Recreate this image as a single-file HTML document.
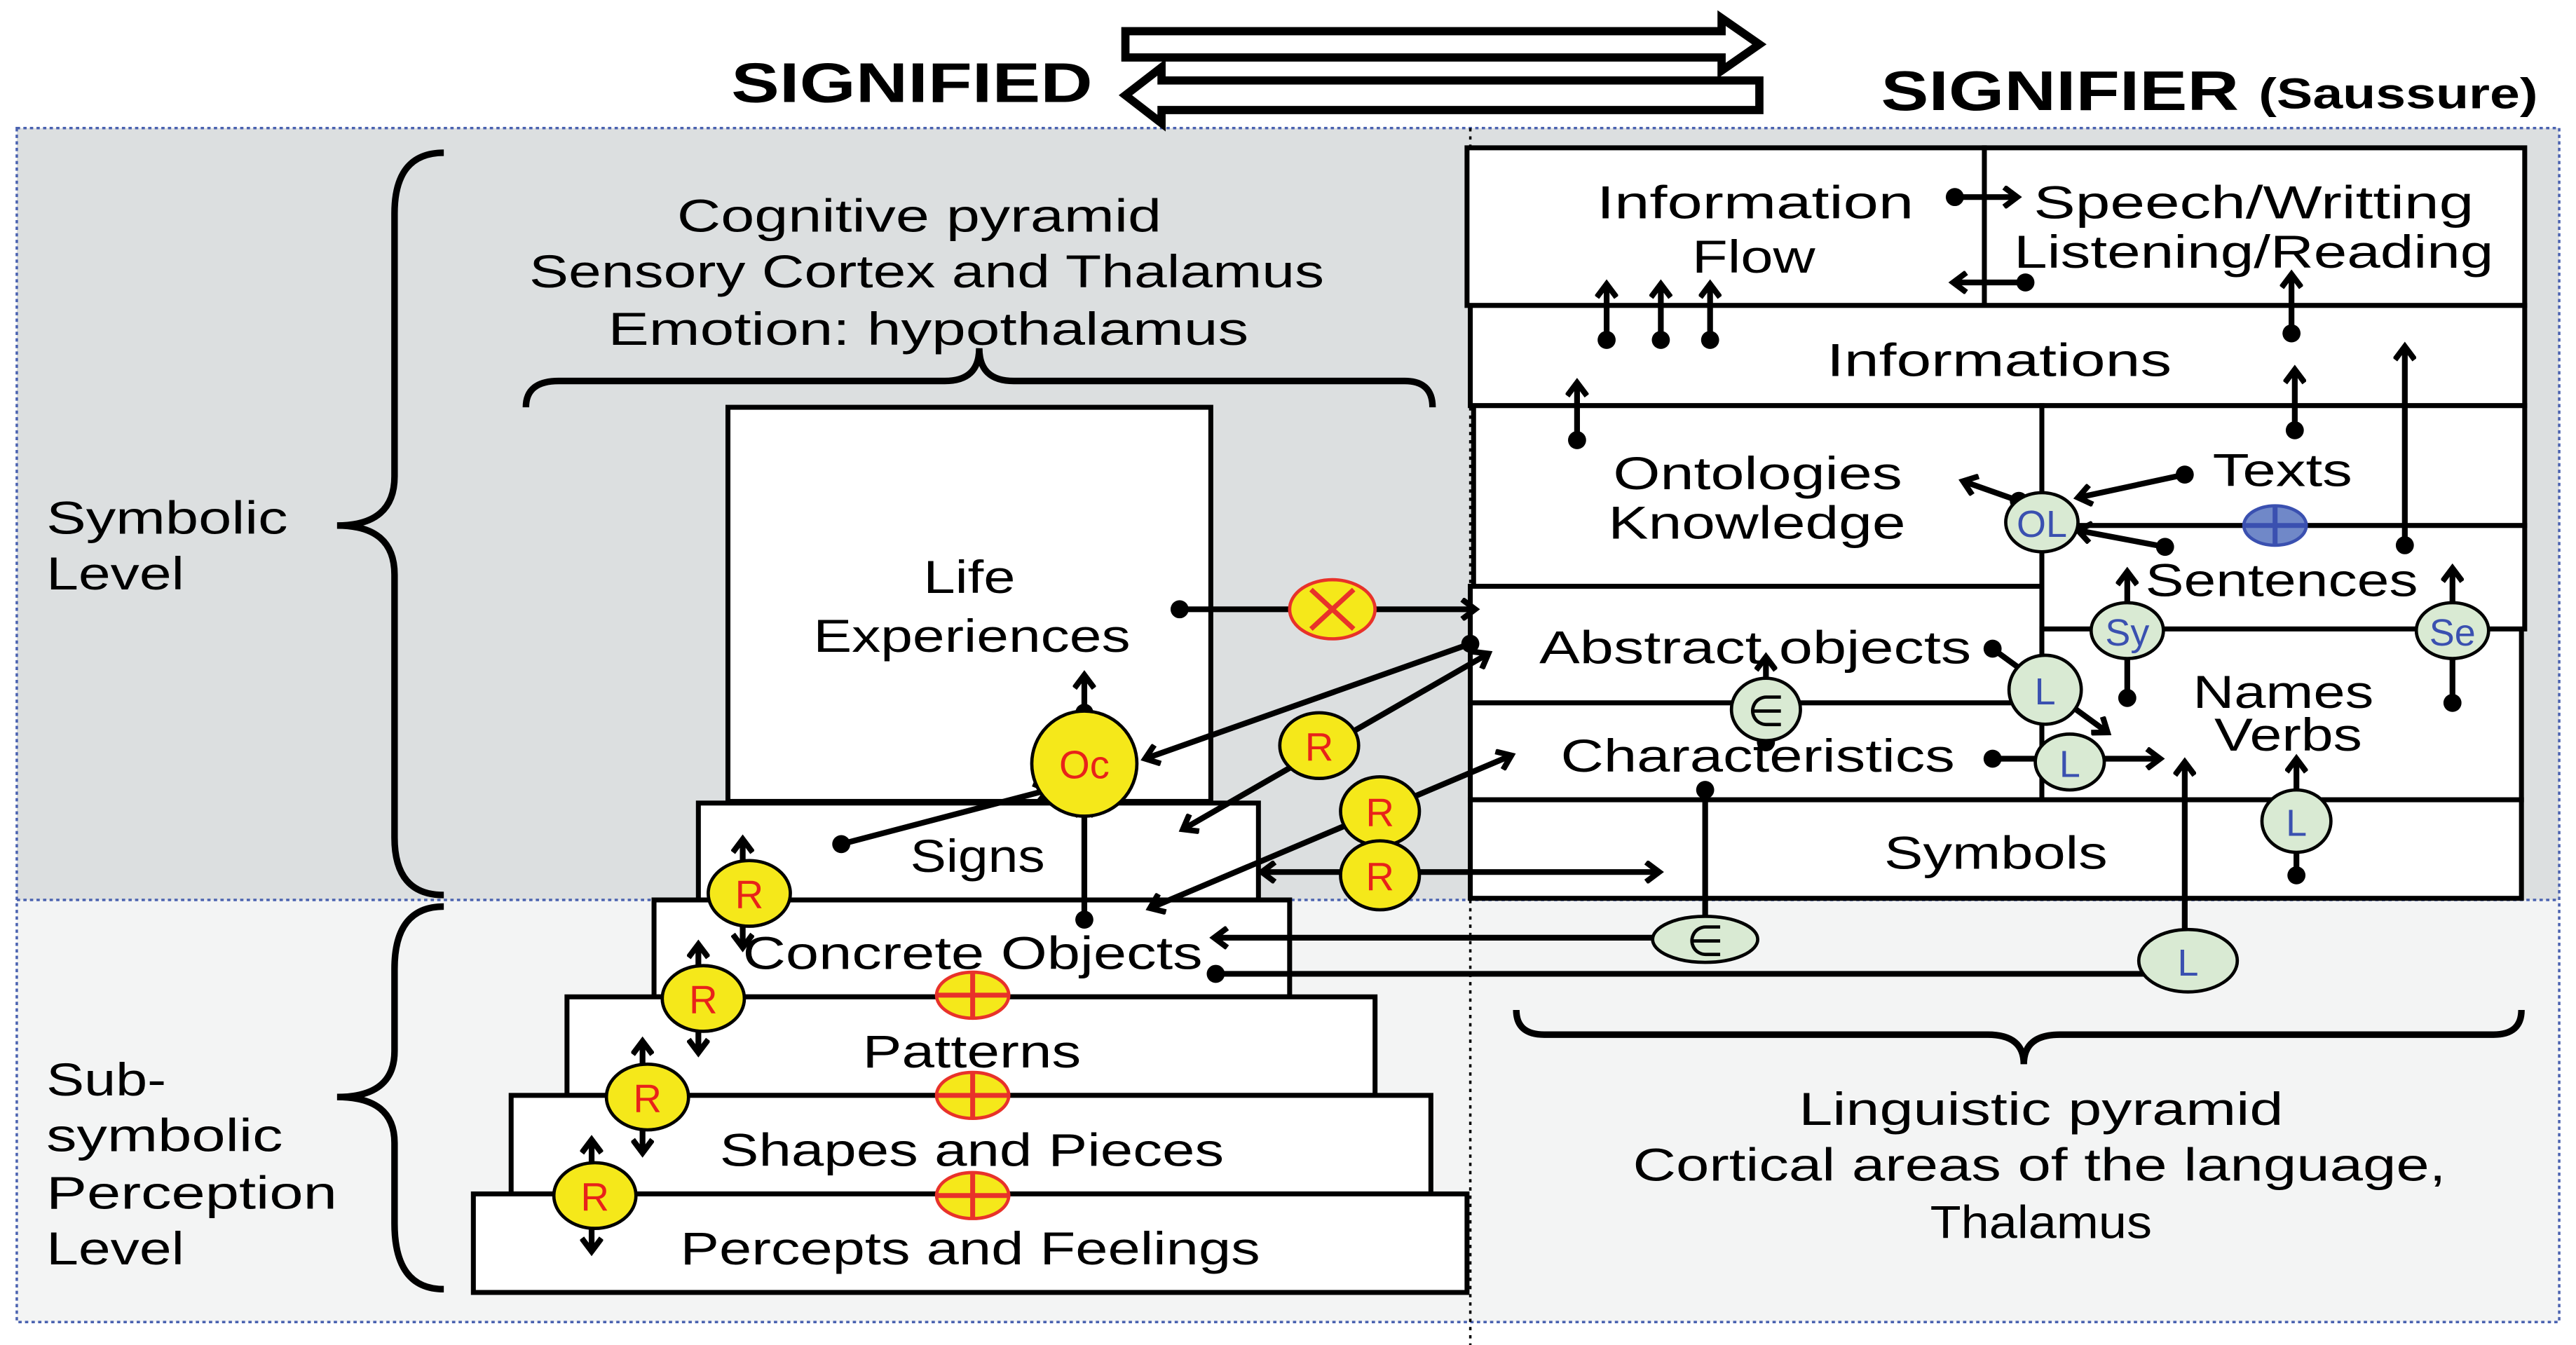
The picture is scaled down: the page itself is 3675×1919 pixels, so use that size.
<!DOCTYPE html>
<html><head><meta charset="utf-8"><style>html,body{margin:0;padding:0;background:#fff}svg{display:block}</style></head>
<body>
<svg xmlns="http://www.w3.org/2000/svg" width="3675" height="1919" viewBox="0 0 1568 819" font-family="'Liberation Sans', sans-serif">
<defs>
<marker id="a" markerWidth="14" markerHeight="14" refX="10" refY="7" orient="auto" markerUnits="userSpaceOnUse"><polyline points="2,1 10,7 2,13" fill="none" stroke="#000" stroke-width="3.5"/></marker>
<marker id="b" markerWidth="14" markerHeight="14" refX="4" refY="7" orient="auto" markerUnits="userSpaceOnUse"><polyline points="12,1 4,7 12,13" fill="none" stroke="#000" stroke-width="3.5"/></marker>
<marker id="d" markerWidth="12" markerHeight="12" refX="6" refY="6" markerUnits="userSpaceOnUse"><circle cx="6" cy="6" r="5.5" fill="#000"/></marker>
</defs>
<rect x="10" y="78" width="1548" height="470" fill="#dcdfe0"/>
<rect x="10" y="548" width="1548" height="257" fill="#f3f4f4"/>
<g fill="none" stroke="#4a62b0" stroke-width="1.5" stroke-dasharray="2,2">
<rect x="10" y="78" width="1548" height="727"/>
<line x1="10" y1="548" x2="1558" y2="548"/>
</g>
<line x1="895" y1="78" x2="895" y2="819" stroke="#000" stroke-width="1.5" stroke-dasharray="2,3"/>

<path d="M685,19 H1048 V11 L1071,27 L1048,43 V35 H685 Z" fill="#fff" stroke="#000" stroke-width="5"/>
<path d="M1071,49 H707 V41 L685,58 L707,75 V67 H1071 Z" fill="#fff" stroke="#000" stroke-width="5"/>
<text x="445" y="62" font-size="34" font-weight="bold" textLength="220" lengthAdjust="spacingAndGlyphs">SIGNIFIED</text>
<text x="1145" y="67" font-size="34" font-weight="bold" textLength="218" lengthAdjust="spacingAndGlyphs">SIGNIFIER</text>
<text x="1375" y="66" font-size="26" font-weight="bold" textLength="170" lengthAdjust="spacingAndGlyphs">(Saussure)</text>

<g fill="#fff" stroke="#000" stroke-width="3">
<rect x="893" y="90" width="315" height="96"/>
<rect x="1208" y="90" width="329" height="96"/>
<rect x="895" y="186" width="642" height="61"/>
<rect x="897" y="247" width="346" height="110"/>
<rect x="1243" y="247" width="294" height="73"/>
<rect x="1243" y="320" width="294" height="63"/>
<rect x="895" y="357" width="348" height="71"/>
<rect x="895" y="428" width="348" height="59"/>
<rect x="1243" y="383" width="292" height="104"/>
<rect x="895" y="487" width="640" height="60"/>
</g>
<g fill="#fff" stroke="#000" stroke-width="3">
<rect x="443" y="248" width="294" height="240"/>
<rect x="425" y="489" width="341" height="59"/>
<rect x="398" y="548" width="387" height="59"/>
<rect x="345" y="607" width="492" height="60"/>
<rect x="311" y="667" width="560" height="60"/>
<rect x="288" y="727" width="605" height="60"/>
</g>

<g font-size="28" fill="#000">
<text x="972" y="133" textLength="193" lengthAdjust="spacingAndGlyphs">Information</text>
<text x="1030" y="166" textLength="75" lengthAdjust="spacingAndGlyphs">Flow</text>
<text x="1238" y="133" textLength="268" lengthAdjust="spacingAndGlyphs">Speech/Writting</text>
<text x="1226" y="163" textLength="292" lengthAdjust="spacingAndGlyphs">Listening/Reading</text>
<text x="1112" y="229" textLength="210" lengthAdjust="spacingAndGlyphs">Informations</text>
<text x="982" y="298" textLength="176" lengthAdjust="spacingAndGlyphs">Ontologies</text>
<text x="979" y="328" textLength="181" lengthAdjust="spacingAndGlyphs">Knowledge</text>
<text x="1347" y="296" textLength="85" lengthAdjust="spacingAndGlyphs">Texts</text>
<text x="1306" y="363" textLength="166" lengthAdjust="spacingAndGlyphs">Sentences</text>
<text x="937" y="404" textLength="263" lengthAdjust="spacingAndGlyphs">Abstract objects</text>
<text x="950" y="470" textLength="240" lengthAdjust="spacingAndGlyphs">Characteristics</text>
<text x="1335" y="431" textLength="110" lengthAdjust="spacingAndGlyphs">Names</text>
<text x="1348" y="457" textLength="90" lengthAdjust="spacingAndGlyphs">Verbs</text>
<text x="1147" y="529" textLength="136" lengthAdjust="spacingAndGlyphs">Symbols</text>
<text x="562" y="361" textLength="56" lengthAdjust="spacingAndGlyphs">Life</text>
<text x="495" y="397" textLength="193" lengthAdjust="spacingAndGlyphs">Experiences</text>
<text x="554" y="531" textLength="82" lengthAdjust="spacingAndGlyphs">Signs</text>
<text x="452" y="590" textLength="280" lengthAdjust="spacingAndGlyphs">Concrete Objects</text>
<text x="525" y="650" textLength="133" lengthAdjust="spacingAndGlyphs">Patterns</text>
<text x="438" y="710" textLength="307" lengthAdjust="spacingAndGlyphs">Shapes and  Pieces</text>
<text x="414" y="770" textLength="353" lengthAdjust="spacingAndGlyphs">Percepts and Feelings</text>
<text x="412" y="141" textLength="295" lengthAdjust="spacingAndGlyphs">Cognitive pyramid</text>
<text x="322" y="175" textLength="484" lengthAdjust="spacingAndGlyphs">Sensory Cortex and Thalamus</text>
<text x="370" y="210" textLength="390" lengthAdjust="spacingAndGlyphs">Emotion: hypothalamus</text>
<text x="1095" y="685" textLength="295" lengthAdjust="spacingAndGlyphs">Linguistic pyramid</text>
<text x="994" y="719" textLength="495" lengthAdjust="spacingAndGlyphs">Cortical areas of the language,</text>
<text x="1175" y="754" textLength="135" lengthAdjust="spacingAndGlyphs">Thalamus</text>
<text x="28" y="325" textLength="147" lengthAdjust="spacingAndGlyphs">Symbolic</text>
<text x="28" y="359" textLength="84" lengthAdjust="spacingAndGlyphs">Level</text>
<text x="28" y="667" textLength="73" lengthAdjust="spacingAndGlyphs">Sub-</text>
<text x="28" y="701" textLength="144" lengthAdjust="spacingAndGlyphs">symbolic</text>
<text x="28" y="736" textLength="177" lengthAdjust="spacingAndGlyphs">Perception</text>
<text x="28" y="770" textLength="84" lengthAdjust="spacingAndGlyphs">Level</text>
</g>

<g fill="none" stroke="#000" stroke-width="4">
<path d="M270,93 Q240,93 240,130 V290 Q240,320 205,320 Q240,320 240,350 V510 Q240,545 270,545"/>
<path d="M270,552 Q240,552 240,590 V640 Q240,668 205,668 Q240,668 240,696 V745 Q240,785 270,785"/>
<path d="M320,248 Q320,232 340,232 H575 Q596,232 596,212 Q596,232 617,232 H855 Q872,232 872,248"/>
<path d="M923,615 Q923,630 940,630 H1210 Q1232,630 1232,648 Q1232,630 1254,630 H1518 Q1535,630 1535,615"/>
</g>

<g stroke="#000" stroke-width="3.5" fill="none">
<line x1="1190" y1="120" x2="1228" y2="120" marker-start="url(#d)" marker-end="url(#a)"/>
<line x1="1233" y1="172" x2="1189" y2="172" marker-start="url(#d)" marker-end="url(#a)"/>
<line x1="978" y1="207" x2="978" y2="173" marker-start="url(#d)" marker-end="url(#a)"/>
<line x1="1011" y1="207" x2="1011" y2="173" marker-start="url(#d)" marker-end="url(#a)"/>
<line x1="1041" y1="207" x2="1041" y2="173" marker-start="url(#d)" marker-end="url(#a)"/>
<line x1="1395" y1="203" x2="1395" y2="167" marker-start="url(#d)" marker-end="url(#a)"/>
<line x1="960" y1="268" x2="960" y2="233" marker-start="url(#d)" marker-end="url(#a)"/>
<line x1="1397" y1="262" x2="1397" y2="225" marker-start="url(#d)" marker-end="url(#a)"/>
<line x1="1464" y1="332" x2="1464" y2="211" marker-start="url(#d)" marker-end="url(#a)"/>
<line x1="1229" y1="305" x2="1195" y2="293" marker-start="url(#d)" marker-end="url(#a)"/>
<line x1="1330" y1="289" x2="1265" y2="303" marker-start="url(#d)" marker-end="url(#a)"/>
<line x1="1318" y1="333" x2="1265" y2="323" marker-start="url(#d)" marker-end="url(#a)"/>
<line x1="1295" y1="425" x2="1295" y2="348" marker-start="url(#d)" marker-end="url(#a)"/>
<line x1="1493" y1="428" x2="1493" y2="346" marker-start="url(#d)" marker-end="url(#a)"/>
<line x1="1213" y1="395" x2="1283" y2="446" marker-start="url(#d)" marker-end="url(#a)"/>
<line x1="1213" y1="462" x2="1315" y2="462" marker-start="url(#d)" marker-end="url(#a)"/>
<line x1="1398" y1="533" x2="1398" y2="462" marker-start="url(#d)" marker-end="url(#a)"/>
<line x1="1075" y1="452" x2="1075" y2="400" marker-start="url(#d)" marker-end="url(#a)"/>
<line x1="1038" y1="481" x2="1038" y2="571" marker-start="url(#d)"/>
<line x1="1038" y1="571" x2="739" y2="571" marker-end="url(#a)"/>
<line x1="740" y1="593" x2="1330" y2="593" marker-start="url(#d)"/>
<line x1="1330" y1="593" x2="1330" y2="464" marker-end="url(#a)"/>
<line x1="1010" y1="531" x2="768" y2="531" marker-start="url(#b)" marker-end="url(#a)"/>
<line x1="718" y1="371" x2="898" y2="371" marker-start="url(#d)" marker-end="url(#a)"/>
<line x1="895" y1="392" x2="697" y2="462" marker-start="url(#d)" marker-end="url(#a)"/>
<line x1="660" y1="434" x2="660" y2="411" marker-start="url(#d)" marker-end="url(#a)"/>
<line x1="512" y1="514" x2="638" y2="481" marker-start="url(#d)" marker-end="url(#a)"/>
<line x1="660" y1="560" x2="660" y2="489" marker-start="url(#d)" marker-end="url(#a)"/>
<line x1="906" y1="398" x2="720" y2="505" marker-start="url(#b)" marker-end="url(#a)"/>
<line x1="920" y1="460" x2="700" y2="553" marker-start="url(#b)" marker-end="url(#a)"/>
<line x1="452" y1="511" x2="452" y2="577" marker-start="url(#b)" marker-end="url(#a)"/>
<line x1="425" y1="575" x2="425" y2="641" marker-start="url(#b)" marker-end="url(#a)"/>
<line x1="391" y1="634" x2="391" y2="702" marker-start="url(#b)" marker-end="url(#a)"/>
<line x1="360" y1="694" x2="360" y2="762" marker-start="url(#b)" marker-end="url(#a)"/>
</g>

<g fill="#d9ead3" stroke="#000" stroke-width="2">
<ellipse cx="1243" cy="318" rx="22" ry="18"/>
<ellipse cx="1295" cy="384" rx="22" ry="17"/>
<ellipse cx="1493" cy="384" rx="22" ry="17"/>
<ellipse cx="1245" cy="420" rx="22" ry="21"/>
<ellipse cx="1260" cy="464" rx="21" ry="17"/>
<ellipse cx="1398" cy="500" rx="21" ry="19"/>
<ellipse cx="1075" cy="432" rx="21" ry="19"/>
<ellipse cx="1038" cy="572" rx="32" ry="14"/>
<ellipse cx="1332" cy="585" rx="30" ry="19"/>
</g>
<g fill="#3a50b0" font-size="23" text-anchor="middle">
<text x="1243" y="327">OL</text>
<text x="1295" y="393">Sy</text>
<text x="1493" y="393">Se</text>
<text x="1245" y="429">L</text>
<text x="1260" y="473">L</text>
<text x="1398" y="509">L</text>
<text x="1332" y="594">L</text>
</g>
<g fill="#000" font-size="26" text-anchor="middle">
<text x="1075" y="442">∈</text>
<text x="1038" y="582">∈</text>
</g>
<ellipse cx="1385" cy="320" rx="19" ry="12" fill="#7088c8" stroke="#3a50b0" stroke-width="2"/>
<g stroke="#3a50b0" stroke-width="3"><line x1="1366" y1="320" x2="1404" y2="320"/><line x1="1385" y1="308" x2="1385" y2="332"/></g>

<g fill="#f5e81a" stroke="#000" stroke-width="2">
<circle cx="660" cy="465" r="32"/>
<ellipse cx="803" cy="454" rx="24" ry="20"/>
<ellipse cx="840" cy="494" rx="24" ry="21"/>
<ellipse cx="840" cy="533" rx="24" ry="21"/>
<ellipse cx="456" cy="544" rx="25" ry="20"/>
<ellipse cx="428" cy="608" rx="25" ry="20"/>
<ellipse cx="394" cy="668" rx="25" ry="20"/>
<ellipse cx="362" cy="728" rx="25" ry="20"/>
</g>
<g fill="#f5e81a" stroke="#e8322a" stroke-width="2">
<ellipse cx="811" cy="371" rx="26" ry="18"/>
<ellipse cx="592" cy="606" rx="22" ry="14"/>
<ellipse cx="592" cy="667" rx="22" ry="14"/>
<ellipse cx="592" cy="728" rx="22" ry="14"/>
</g>
<g stroke="#e8322a" stroke-width="3">
<line x1="798" y1="359" x2="824" y2="383"/><line x1="824" y1="359" x2="798" y2="383"/>
<line x1="570" y1="606" x2="614" y2="606"/><line x1="592" y1="592" x2="592" y2="620"/>
<line x1="570" y1="667" x2="614" y2="667"/><line x1="592" y1="653" x2="592" y2="681"/>
<line x1="570" y1="728" x2="614" y2="728"/><line x1="592" y1="714" x2="592" y2="742"/>
</g>
<g fill="#e8221a" font-size="24" text-anchor="middle">
<text x="660" y="474">Oc</text>
<text x="803" y="463">R</text>
<text x="840" y="503">R</text>
<text x="840" y="542">R</text>
<text x="456" y="553">R</text>
<text x="428" y="617">R</text>
<text x="394" y="677">R</text>
<text x="362" y="737">R</text>
</g>
</svg>
</body></html>
